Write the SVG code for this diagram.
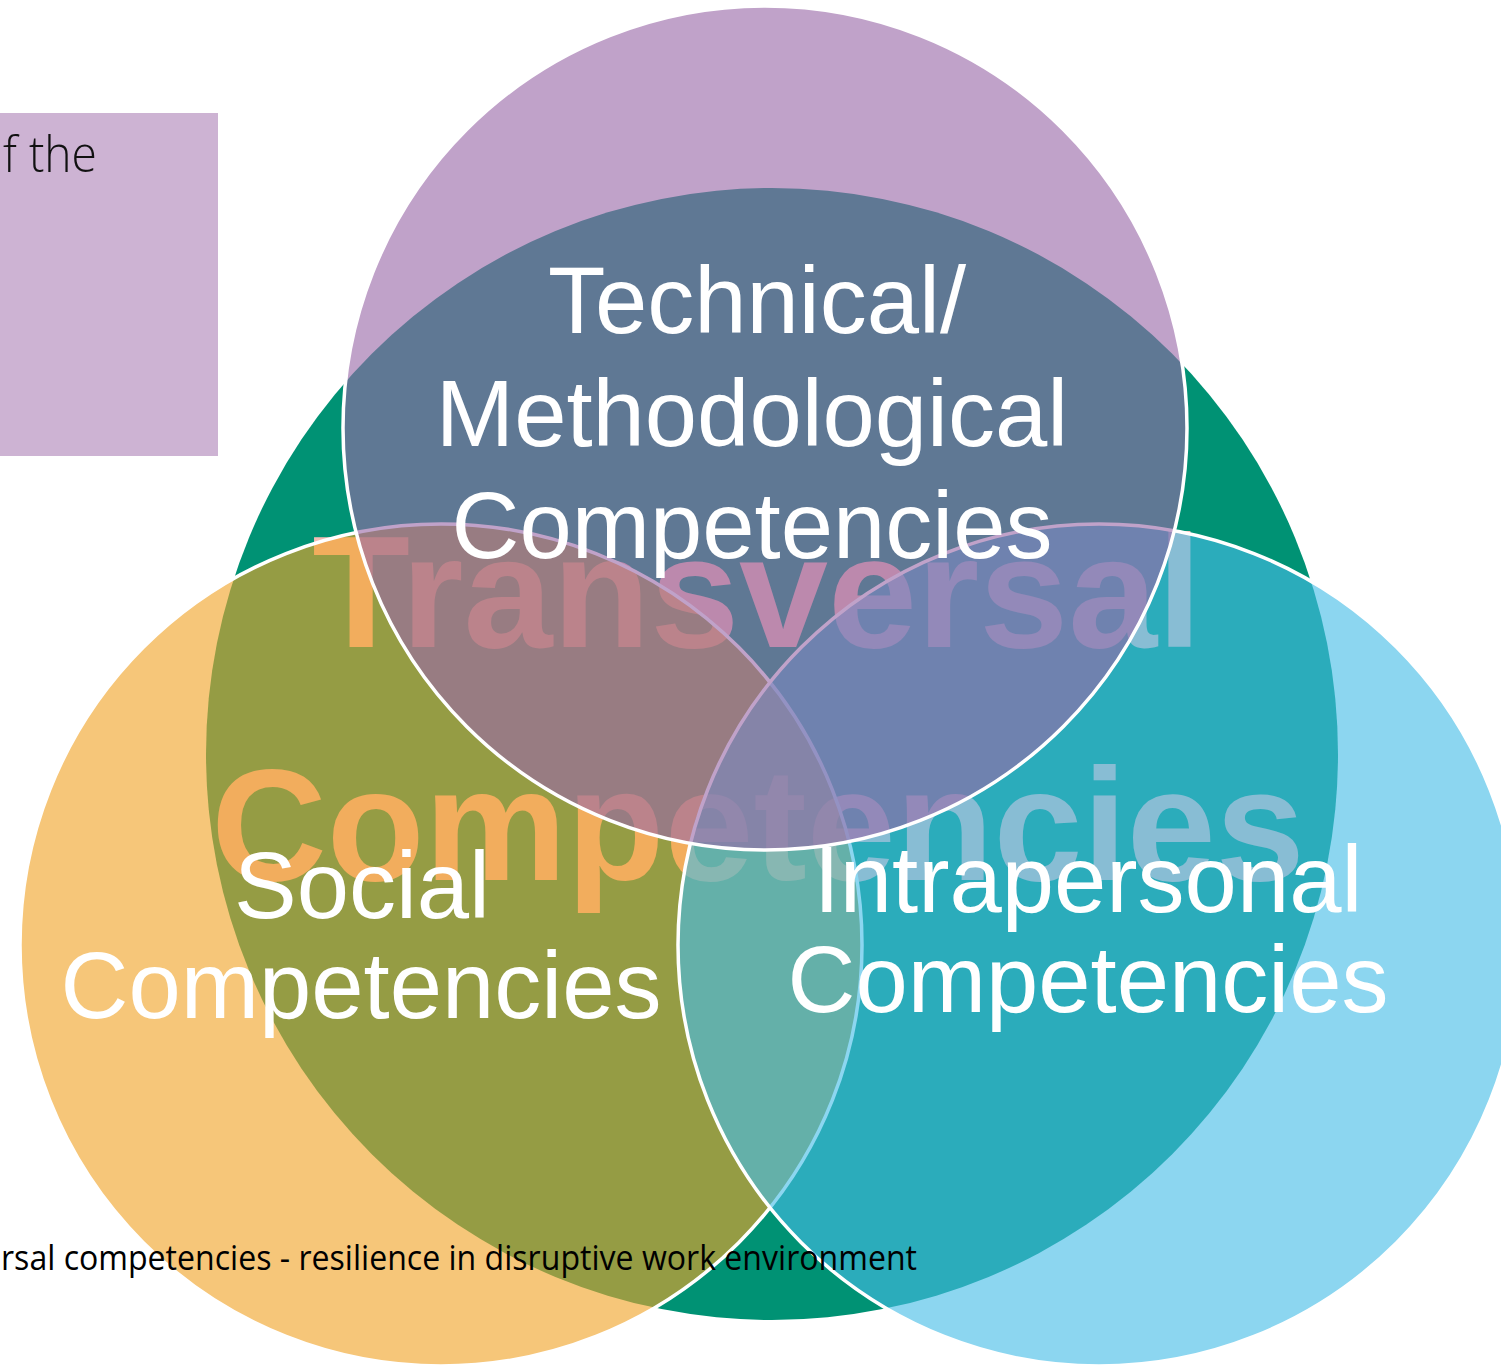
<svg xmlns="http://www.w3.org/2000/svg" width="1501" height="1366" viewBox="0 0 1501 1366">
  <style>
    .ring { stroke: #ffffff; stroke-width: 3.5; fill-opacity: 0.62; }
    .label { font-family: "Liberation Sans", Arial, sans-serif; font-size: 94px; fill: #ffffff; text-anchor: middle; }
    .big { font-family: "Liberation Sans", Arial, sans-serif; font-weight: bold; font-size: 160px; fill: #f4bdb5; text-anchor: middle; }
    .note { font-family: "Open Sans", "Noto Sans", sans-serif; font-weight: 300; fill: #111111; }
    .caption { font-family: "Open Sans", "Noto Sans", sans-serif; font-weight: 400; fill: #000000; }
  </style>
  <rect x="0" y="0" width="1501" height="1366" fill="#ffffff"/>

  <g id="side-note">
    <rect x="0" y="113" width="218" height="343" fill="#cdb3d3"/>
    <text class="note" x="3" y="172" font-size="50" textLength="94" lengthAdjust="spacingAndGlyphs">f the</text>
  </g>

  <g id="node-transversal">
    <circle cx="772" cy="754" r="566" fill="#009274"/>
    <text class="big" x="757" y="647">Transversal</text>
    <text class="big" x="758" y="880">Competencies</text>
  </g>

  <g id="node-social">
    <circle class="ring" cx="441" cy="945" r="421" fill="#f0a327"/>
  </g>

  <g id="node-intrapersonal">
    <circle class="ring" cx="1099" cy="945" r="421" fill="#46bde7"/>
  </g>

  <g id="node-technical">
    <circle class="ring" cx="765" cy="428" r="422" fill="#9969a8"/>
    <text class="label" x="757" y="333">Technical/</text>
    <text class="label" x="752" y="446">Methodological</text>
    <text class="label" x="752" y="558">Competencies</text>
  </g>

  <g id="labels-lower">
    <text class="label" x="362" y="918">Social</text>
    <text class="label" x="361" y="1018">Competencies</text>
    <text class="label" x="1088" y="912">Intrapersonal</text>
    <text class="label" x="1088" y="1012">Competencies</text>
  </g>

  <g id="connectors"/>

  <g id="caption">
    <text class="caption" x="1" y="1270" font-size="35" textLength="916" lengthAdjust="spacingAndGlyphs">rsal competencies - resilience in disruptive work environment</text>
  </g>
</svg>
